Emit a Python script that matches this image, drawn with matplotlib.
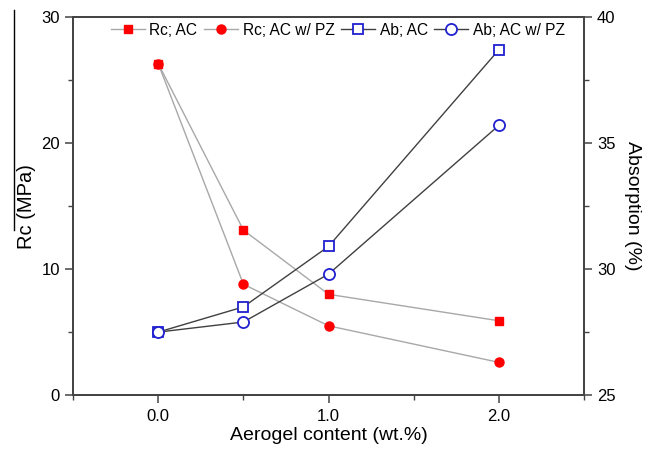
import matplotlib.pyplot as plt
from matplotlib.lines import Line2D
from matplotlib.ticker import MultipleLocator

plt.rcParams['font.family'] = ['Liberation Sans', 'DejaVu Sans']

# Aerogel content (wt.%)
aerogel = [0.0, 0.5, 1.0, 2.0]

# Compressive strength Rc (MPa)
rc_ac = [26.3, 13.1, 8.0, 5.9]
rc_ac_pz = [26.3, 8.8, 5.5, 2.6]

# Water absorption (%)
ab_ac = [27.5, 28.5, 30.9, 38.7]
ab_ac_pz = [27.5, 27.9, 29.8, 35.7]

xticks = [0.0, 1.0, 2.0]
xtick_labels = ["0.0", "1.0", "2.0"]

fig = plt.figure(figsize=(6.59, 4.5), dpi=100)
ax = fig.add_axes([0.111, 0.122, 0.775, 0.84])
ax2 = ax.twinx()

ax.plot(aerogel, rc_ac, color="#a8a8a8", lw=1.0, marker="s", ms=6,
        mfc="red", mec="red", label="Rc; AC")
ax.plot(aerogel, rc_ac_pz, color="#a8a8a8", lw=1.0, marker="o", ms=6.5,
        mfc="red", mec="red", label="Rc; AC w/ PZ")
ax2.plot(aerogel, ab_ac, color="#404040", lw=1.0, marker="s", ms=7.5,
         mfc="white", mec="#2020d0", mew=1.3, label="Ab; AC")
ax2.plot(aerogel, ab_ac_pz, color="#404040", lw=1.0, marker="o", ms=8,
         mfc="white", mec="#2020d0", mew=1.3, label="Ab; AC w/ PZ")

ax.set_xlim(-0.5, 2.5)
ax.set_ylim(0, 30)
ax2.set_ylim(25, 40)

ax.set_xticks(xticks)
ax.set_xticklabels(xtick_labels)
ax.xaxis.set_minor_locator(MultipleLocator(0.5))
ax.yaxis.set_major_locator(MultipleLocator(10))
ax.yaxis.set_minor_locator(MultipleLocator(5))
ax2.yaxis.set_major_locator(MultipleLocator(5))
ax2.yaxis.set_minor_locator(MultipleLocator(2.5))

for a in (ax, ax2):
    for s in a.spines.values():
        s.set_color("#444444")
        s.set_linewidth(1.3)
    a.tick_params(which="major", direction="out", length=6, width=1.1,
                  color="#444444", labelsize=12)
    a.tick_params(which="minor", direction="out", length=3.5, width=1.0,
                  color="#444444")
ax.tick_params(axis="x", pad=4)

ax.set_xlabel("Aerogel content (wt.%)", fontsize=14, labelpad=2)
ax.set_ylabel("Rc (MPa)", fontsize=14.5, labelpad=4)
ax2.set_ylabel("Absorption (%)", fontsize=14, rotation=270, labelpad=18)

handles = ax.get_legend_handles_labels()[0] + ax2.get_legend_handles_labels()[0]
labels = [h.get_label() for h in handles]
ax.legend(handles, labels, loc="upper center", ncol=4, frameon=False,
          fontsize=11.2, handlelength=2.2, handletextpad=0.3,
          columnspacing=0.4, bbox_to_anchor=(0.518, 1.01), borderaxespad=0.2)

# thin stray rule beside the left axis label
fig.add_artist(Line2D([0.021, 0.021], [0.978, 0.49], color="black", lw=1.0))

fig.savefig("out.png", dpi=100)
